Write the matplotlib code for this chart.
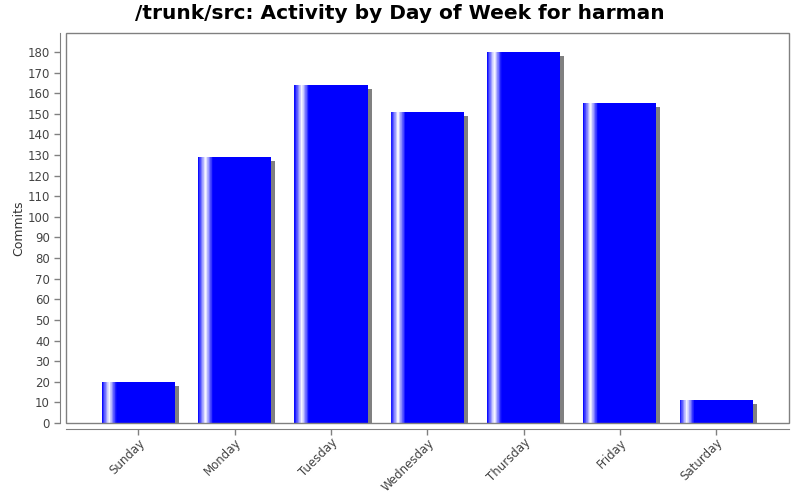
import numpy as np
import matplotlib.pyplot as plt
from matplotlib.patches import Rectangle
import matplotlib.transforms as mtransforms

days = ['Sunday', 'Monday', 'Tuesday', 'Wednesday', 'Thursday', 'Friday', 'Saturday']
commits = [20, 129, 164, 151, 180, 155, 11]

fig = plt.figure(figsize=(8, 5), dpi=100)
ax = fig.add_axes([66 / 800, 77 / 500, 723 / 800, 390 / 500])

for s in ['top', 'right']:
    ax.spines[s].set_visible(False)
for s in ['left', 'bottom']:
    ax.spines[s].set_position(('outward', 4))
    ax.spines[s].set_color('#808080')

x = np.arange(len(days))
width = 0.76

# shadow, 4px right and 4px down
shadow_tr = mtransforms.offset_copy(ax.transData, fig=fig, x=4, y=-4, units='dots')
for xi, v in zip(x, commits):
    ax.add_patch(Rectangle((xi - width / 2, 0), width, v, facecolor='#808080',
                           edgecolor='none', transform=shadow_tr, zorder=1))

bars = ax.bar(x, commits, width=width, color='#0000ff', zorder=2)

# blue -> white -> blue highlight on the left 20% of each bar
n = 24
for b in bars:
    x0 = b.get_x()
    w = b.get_width() * 0.2 / n
    for i in range(n):
        t = (i + 0.5) / n
        k = 1 - abs(t - 0.5) * 2
        c = (k, k, 1.0)
        ax.add_patch(Rectangle((x0 + i * w, 0), w * 1.05, b.get_height(),
                               facecolor=c, edgecolor='none', zorder=3))

ax.set_xlim(-0.753, 6.757)
ax.set_ylim(0, 189.2)

ax.set_yticks(range(0, 181, 10))
ax.set_xticks(x)
ax.set_xticklabels(days, rotation=45, ha='right', rotation_mode='anchor')

ax.add_patch(Rectangle((0, 0), 1, 1, transform=ax.transAxes, fill=False,
                       edgecolor='#808080', linewidth=1, clip_on=False, zorder=5))

ax.tick_params(axis='both', colors='#808080', labelcolor='#444444', labelsize=8.5,
               length=4, width=1)
ax.tick_params(axis='x', pad=1.5)

ax.set_ylabel('Commits', fontsize=9, color='#333333', labelpad=2)
fig.suptitle('/trunk/src: Activity by Day of Week for harman', fontsize=14.5,
             fontweight='bold', y=0.992)

fig.savefig('out.png', dpi=100)
